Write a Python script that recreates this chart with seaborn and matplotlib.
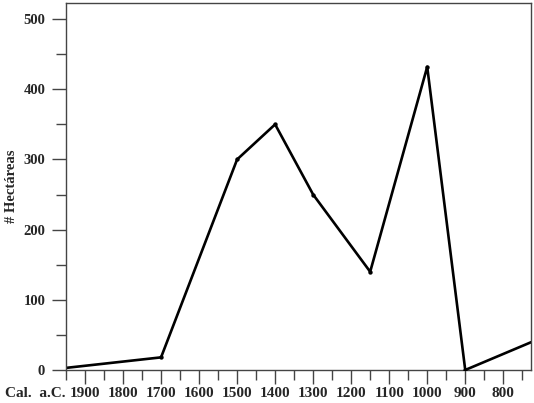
import numpy as np
import pandas as pd
import matplotlib
matplotlib.use("Agg")
import matplotlib.pyplot as plt
from matplotlib.ticker import MultipleLocator
import seaborn as sns

# años cal. a.C. y superficie ocupada (hectáreas)
years = [1950, 1700, 1500, 1400, 1300, 1150, 1000, 900, 725]
hectares = [3, 18, 300, 350, 250, 140, 432, 0, 40]
marked = [1700, 1500, 1400, 1300, 1150, 1000, 900]
x_ticks = [1900, 1800, 1700, 1600, 1500, 1400, 1300, 1200, 1100, 1000, 900, 800]
y_ticks = [0, 100, 200, 300, 400, 500]

df = pd.DataFrame({"year": years, "ha": hectares})
pts = df[df["year"].isin(marked)]

sns.set_style("ticks")
plt.rcParams["font.family"] = ["Liberation Serif", "DejaVu Serif"]
plt.rcParams["font.weight"] = "bold"

fig = plt.figure(figsize=(5.34, 4.03), dpi=100)
ax = fig.add_axes([0.1236, 0.0819, 0.8708, 0.9107])

sns.lineplot(data=df, x="year", y="ha", color="black", linewidth=1.9, ax=ax)
sns.scatterplot(data=pts, x="year", y="ha", color="black", s=10, linewidth=0, ax=ax, zorder=3)

ax.set_xlim(1950, 727)
ax.set_ylim(0, 523)
ax.set_xticks(x_ticks)
ax.set_xticklabels([str(v) for v in x_ticks])
ax.set_yticks(y_ticks)
ax.xaxis.set_minor_locator(MultipleLocator(50))
ax.yaxis.set_minor_locator(MultipleLocator(50))

ax.tick_params(which="major", direction="out", length=10, width=1, color="#444444", pad=5)
ax.tick_params(which="minor", direction="out", length=7, width=1, color="#444444")
ax.tick_params(axis="x", labelsize=11, pad=2)
ax.tick_params(axis="y", labelsize=10.5)
for lab in ax.get_xticklabels() + ax.get_yticklabels():
    lab.set_fontweight("bold")

for sp in ax.spines.values():
    sp.set_color("#444444")
    sp.set_linewidth(1)

ax.set_xlabel("")
ax.set_ylabel("# Hectáreas", fontsize=10.5, fontweight="bold")
ax.yaxis.set_label_coords(-0.104, 0.5)
fig.text(0.009, 0.016, "Cal.  a.C.", fontsize=11, fontweight="bold", ha="left", va="baseline")

fig.savefig("out.png", dpi=100)
